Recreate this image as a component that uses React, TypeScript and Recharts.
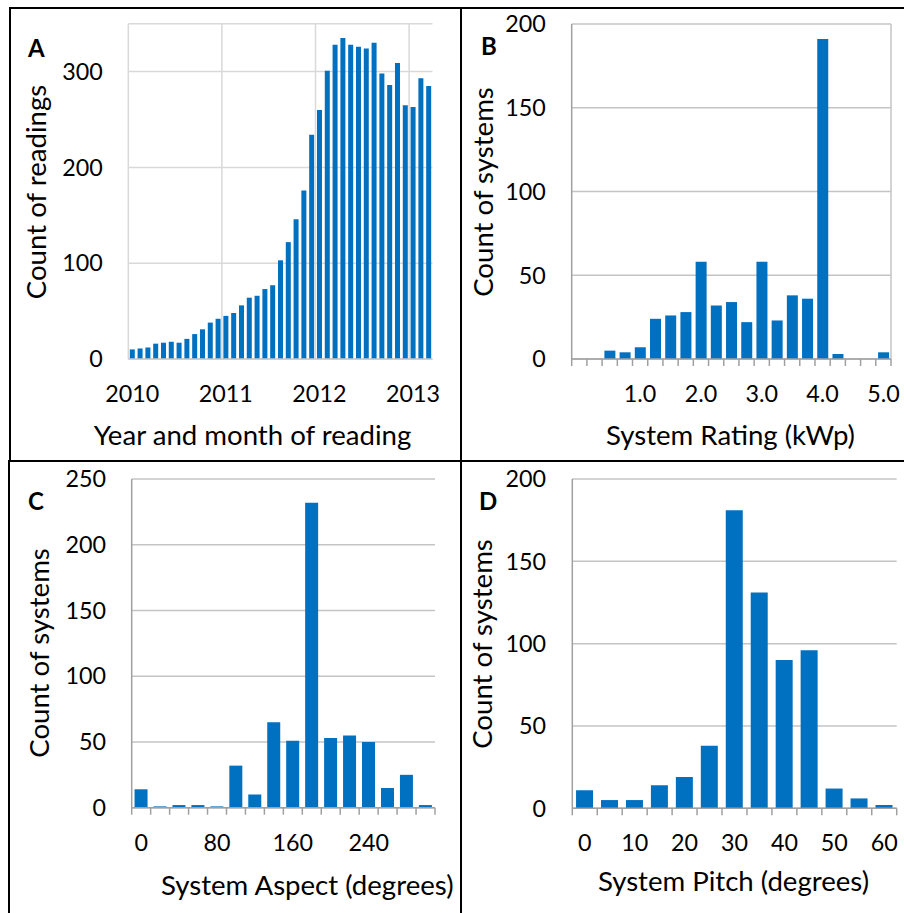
import React from 'react';
import { BarChart, Bar, XAxis, YAxis, CartesianGrid, ReferenceLine } from 'recharts';

const FONT = "Lato, 'Liberation Sans', sans-serif";
const BLUE = '#0070C0';
const TEXT = '#000000';
const GRID_A = '#D9D9D9';
const GRID = '#C4C4C4';
const AXIS = '#A0A0A0';

// Panel A: readings per month
const monthCategories = [
  '2010-01', '2010-02', '2010-03', '2010-04', '2010-05', '2010-06', '2010-07', '2010-08', '2010-09', '2010-10', '2010-11', '2010-12',
  '2011-01', '2011-02', '2011-03', '2011-04', '2011-05', '2011-06', '2011-07', '2011-08', '2011-09', '2011-10', '2011-11', '2011-12',
  '2012-01', '2012-02', '2012-03', '2012-04', '2012-05', '2012-06', '2012-07', '2012-08', '2012-09', '2012-10', '2012-11', '2012-12',
  '2013-01', '2013-02', '2013-03',
];
const monthlyReadings = [
  10, 11, 12, 16, 17, 18, 17, 21, 26, 31, 38, 42,
  45, 48, 56, 64, 66, 73, 77, 103, 122, 146, 176, 234,
  260, 301, 328, 335, 328, 326, 324, 330, 298, 286, 309, 265,
  263, 293, 285,
];
const yearGridMonths = ['2010-01', '2011-01', '2012-01', '2013-01'];
const readingTicks = [0, 100, 200, 300];

// Panel B: system rating (kWp)
const ratingBins = [0, 0.25, 0.5, 0.75, 1, 1.25, 1.5, 1.75, 2, 2.25, 2.5, 2.75, 3, 3.25, 3.5, 3.75, 4, 4.25, 4.5, 4.75, 5];
const ratingCounts = [0, 0, 5, 4, 7, 24, 26, 28, 58, 32, 34, 22, 58, 23, 38, 36, 191, 3, 0, 0, 4];
const ratingTicks = [0, 50, 100, 150, 200];

// Panel C: system aspect (degrees)
const aspectBins = [0, 20, 40, 60, 80, 100, 120, 140, 160, 180, 200, 220, 240, 260, 280, 300];
const aspectCounts = [14, 1, 2, 2, 1, 32, 10, 65, 51, 232, 53, 55, 50, 15, 25, 2];
const aspectTicks = [0, 50, 100, 150, 200, 250];

// Panel D: system pitch (degrees)
const pitchBins = [0, 5, 10, 15, 20, 25, 30, 35, 40, 45, 50, 55, 60];
const pitchCounts = [11, 5, 5, 14, 19, 38, 181, 131, 90, 96, 12, 6, 2];
const pitchTicks = [0, 50, 100, 150, 200];

const dataA = monthCategories.map((m, i) => ({ month: m, count: monthlyReadings[i] }));
const dataB = ratingBins.map((b, i) => ({ bin: b, count: ratingCounts[i] }));
const dataC = aspectBins.map((b, i) => ({ bin: b, count: aspectCounts[i] }));
const dataD = pitchBins.map((b, i) => ({ bin: b, count: pitchCounts[i] }));

const TICK_FS = 23.3;
const TITLE_FS = 27.6;
const X_TICK_GAP = 26.5;

const makeEdgeTick = (n: number, bandWidth: number, show: (v: number) => boolean, fmt: (v: number) => string) =>
  (props: any) => {
    const { x, y, payload, index } = props;
    const axisY = y - X_TICK_GAP;
    const left = x - bandWidth / 2;
    const right = x + bandWidth / 2;
    return (
      <g>
        <line x1={left} x2={left} y1={axisY} y2={axisY + 7} stroke={AXIS} strokeWidth={1.5} />
        {index === n - 1 && <line x1={right} x2={right} y1={axisY} y2={axisY + 7} stroke={AXIS} strokeWidth={1.5} />}
        {show(payload.value) && (
          <text x={x} y={y} dy="0.71em" textAnchor="middle" fill={TEXT} fontSize={TICK_FS} fontFamily={FONT}>
            {fmt(payload.value)}
          </text>
        )}
      </g>
    );
  };

const yTick = { fill: TEXT, fontSize: TICK_FS, fontFamily: FONT };

function PanelA() {
  return (
    <div style={{ position: 'absolute', left: 0, top: 0 }}>
      <BarChart width={460} height={460} data={dataA} margin={{ top: 23.7, right: 27.5, bottom: 0, left: 0 }} barCategoryGap="19%">
        <CartesianGrid vertical={false} stroke={GRID_A} strokeWidth={1.5} />
        <XAxis
          dataKey="month"
          height={101}
          interval={11}
          tickSize={0}
          tickMargin={X_TICK_GAP}
          tickLine={false}
          axisLine={{ stroke: '#C8C8C8', strokeWidth: 1.5 }}
          tick={yTick}
          tickFormatter={(v: string) => v.slice(0, 4)}
        />
        <YAxis
          width={128.3}
          domain={[0, 350]}
          ticks={readingTicks}
          tickSize={0}
          tickMargin={25.5}
          tickLine={false}
          axisLine={false}
          tick={yTick}
        />
        {yearGridMonths.map((m) => (
          <ReferenceLine key={m} x={m} position="start" stroke={GRID_A} strokeWidth={1.5} />
        ))}
        <Bar dataKey="count" fill={BLUE} isAnimationActive={false} />
      </BarChart>
    </div>
  );
}

type HistProps = {
  left: number; top: number; width: number; height: number;
  data: any[]; bins: number[]; ticks: number[]; max: number;
  marginRight: number; yWidth: number; yGap: number; xHeight: number; bandWidth: number;
  show: (v: number) => boolean; fmt: (v: number) => string; rightBorder?: boolean;
};

function Hist(p: HistProps) {
  const tick = makeEdgeTick(p.bins.length, p.bandWidth, p.show, p.fmt);
  return (
    <div style={{ position: 'absolute', left: p.left, top: p.top }}>
      <BarChart width={p.width} height={p.height} data={p.data} margin={{ top: 24, right: p.marginRight, bottom: 0, left: 0 }} barCategoryGap="15%">
        <CartesianGrid vertical={false} stroke={GRID} strokeWidth={1.5} />
        <XAxis
          dataKey="bin"
          height={p.xHeight}
          interval={0}
          tickSize={0}
          tickMargin={X_TICK_GAP}
          tickLine={false}
          axisLine={{ stroke: AXIS, strokeWidth: 1.5 }}
          tick={tick}
        />
        <YAxis
          width={p.yWidth}
          domain={[0, p.max]}
          ticks={p.ticks}
          tickSize={0}
          tickMargin={p.yGap}
          tickLine={false}
          axisLine={{ stroke: AXIS, strokeWidth: 1.5 }}
          tick={yTick}
        />
        {p.rightBorder && (
          <ReferenceLine x={p.bins[p.bins.length - 1]} position="end" stroke={GRID} strokeWidth={1.5} />
        )}
        <Bar dataKey="count" fill={BLUE} isAnimationActive={false} />
      </BarChart>
    </div>
  );
}

function Overlay() {
  const title = { fill: TEXT, fontSize: TITLE_FS, fontFamily: FONT } as const;
  const letter = { fill: TEXT, fontSize: 24, fontFamily: FONT, fontWeight: 700 } as const;
  return (
    <svg width={904} height={913} style={{ position: 'absolute', left: 0, top: 0, pointerEvents: 'none' }}>
      <rect x={9} y={7} width={895} height={2} fill="#000" />
      <rect x={9} y={7} width={2} height={454} fill="#000" />
      <rect x={8} y={461} width={2} height={452} fill="#000" />
      <rect x={460} y={7} width={2} height={906} fill="#000" />
      <rect x={8} y={460} width={896} height={2} fill="#000" />

      <text x={28} y={57} {...letter}>A</text>
      <text x={481} y={55} {...letter}>B</text>
      <text x={28} y={510} {...letter}>C</text>
      <text x={479} y={510} {...letter}>D</text>

      <text x={252.5} y={445} textAnchor="middle" {...title}>Year and month of reading</text>
      <text x={730.5} y={445} textAnchor="middle" {...title}>System Rating (kWp)</text>
      <text x={307.3} y={895} textAnchor="middle" {...title}>System Aspect (degrees)</text>
      <text x={733.5} y={891} textAnchor="middle" {...title}>System Pitch (degrees)</text>

      <text x={46} y={192} transform="rotate(-90 46 192)" textAnchor="middle" {...title}>Count of readings</text>
      <text x={493} y={192} transform="rotate(-90 493 192)" textAnchor="middle" {...title}>Count of systems</text>
      <text x={48.5} y={653} transform="rotate(-90 48.5 653)" textAnchor="middle" {...title}>Count of systems</text>
      <text x={491.6} y={644} transform="rotate(-90 491.6 644)" textAnchor="middle" {...title}>Count of systems</text>
    </svg>
  );
}

export default function App() {
  return (
    <div style={{ position: 'absolute', left: 0, top: 0, width: 904, height: 913, background: '#fff', fontFamily: FONT }}>
      <PanelA />
      <Hist
        left={455} top={0} width={449} height={460}
        data={dataB} bins={ratingBins} ticks={ratingTicks} max={200}
        marginRight={13} yWidth={116.7} yGap={26} xHeight={101} bandWidth={319.3 / 21}
        show={(v) => v >= 1 && Number.isInteger(v)} fmt={(v) => v.toFixed(1)} rightBorder
      />
      <Hist
        left={0} top={455} width={460} height={458}
        data={dataC} bins={aspectBins} ticks={aspectTicks} max={250}
        marginRight={25} yWidth={131.7} yGap={25.7} xHeight={105.3} bandWidth={303.3 / 16}
        show={(v) => v % 80 === 0} fmt={(v) => String(v)}
      />
      <Hist
        left={455} top={455} width={449} height={458}
        data={dataD} bins={pitchBins} ticks={pitchTicks} max={200}
        marginRight={7.3} yWidth={117.3} yGap={26.3} xHeight={104.7} bandWidth={324.4 / 13}
        show={(v) => v % 10 === 0} fmt={(v) => String(v)}
      />
      <Overlay />
    </div>
  );
}
